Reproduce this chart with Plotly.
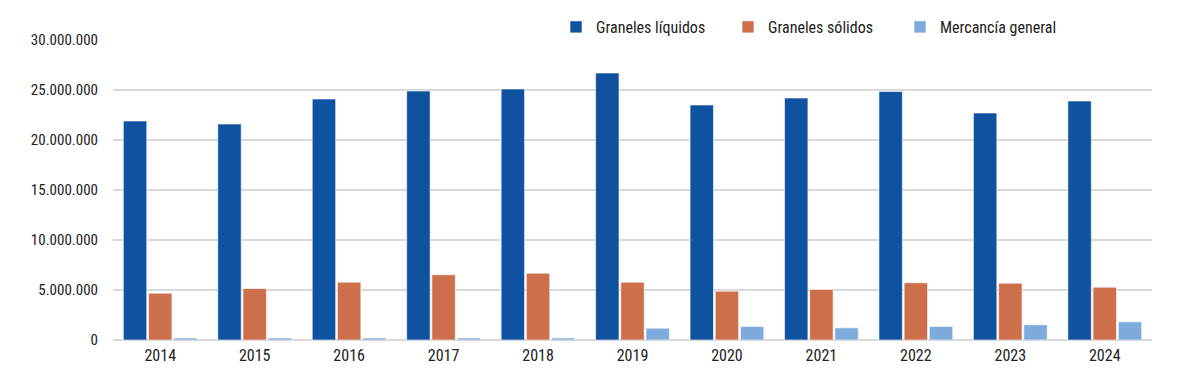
import plotly.graph_objects as go

years = ["2014", "2015", "2016", "2017", "2018", "2019", "2020", "2021", "2022", "2023", "2024"]
graneles_liquidos = [21900000, 21600000, 24100000, 24900000, 25100000, 26700000, 23500000, 24200000, 24850000, 22700000, 23900000]
graneles_solidos = [4680000, 5150000, 5780000, 6520000, 6680000, 5780000, 4880000, 5050000, 5720000, 5680000, 5280000]
mercancia_general = [200000, 200000, 200000, 200000, 200000, 1180000, 1350000, 1220000, 1350000, 1520000, 1820000]

series_names = ["Graneles líquidos", "Graneles sólidos", "Mercancía general"]
colors = ["#0f52a0", "#cc6f4a", "#7faadc"]
y_ticks = [0, 5000000, 10000000, 15000000, 20000000, 25000000, 30000000]

FONT = "Roboto Condensed, Roboto, sans-serif"
OFF = 8  # default page body margin

fig = go.Figure()
for name, vals, col in zip(series_names, [graneles_liquidos, graneles_solidos, mercancia_general], colors):
    fig.add_trace(go.Bar(
        x=years, y=vals, name=name,
        marker=dict(color=col, line=dict(color="rgba(255,255,255,0.6)", width=1)),
    ))

fig.update_layout(
    width=1200, height=390,
    margin=dict(l=113 - OFF, r=48 + OFF, t=40 - OFF, b=50 + OFF, autoexpand=False),
    paper_bgcolor="white", plot_bgcolor="white",
    barmode="group", bargap=0.2, bargroupgap=0.07,
    separators=",.",
    font=dict(family=FONT, size=15, color="#222222"),
    showlegend=True,
    legend=dict(orientation="h", x=(556 - OFF) / 1200, xanchor="left",
                y=1 - (27 - OFF) / 390, yanchor="middle",
                xref="container", yref="container",
                entrywidth=127, entrywidthmode="pixels",
                font=dict(family=FONT, size=16, color="#222222"),
                bgcolor="rgba(0,0,0,0)"),
    xaxis=dict(showgrid=False, showline=False, ticks="", ticklabelstandoff=4,
               tickfont=dict(size=16)),
    yaxis=dict(range=[0, 30000000], tickvals=y_ticks, tickformat=",d",
               showgrid=True, gridcolor="#d9d9d9", gridwidth=2,
               zeroline=True, zerolinecolor="#d9d9d9", zerolinewidth=2,
               showline=False, ticks="", ticklabelstandoff=14,
               tickfont=dict(size=15)),
)

fig.write_html("out.html")
